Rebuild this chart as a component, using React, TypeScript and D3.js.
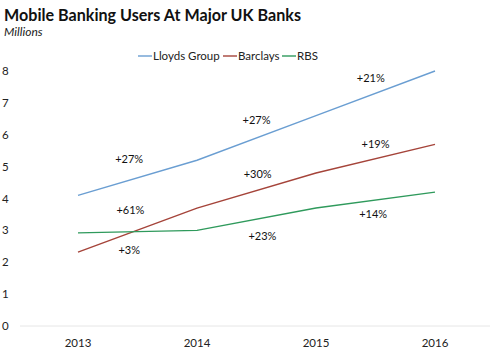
import { useEffect, useRef } from "react"
import * as d3 from "d3"

const years = [2013, 2014, 2015, 2016]
const lloyds = [4.1, 5.2, 6.6, 8.0]
const barclays = [2.32, 3.7, 4.8, 5.7]
const rbs = [2.92, 3.0, 3.7, 4.2]
const yTicks = [0, 1, 2, 3, 4, 5, 6, 7, 8]

// growth labels: i = position between year indexes, v = value height
const growthLabels = [
  { i: 0.43, v: 5.1, text: "+27%" },
  { i: 0.44, v: 3.5, text: "+61%" },
  { i: 0.43, v: 2.25, text: "+3%" },
  { i: 1.5, v: 6.35, text: "+27%" },
  { i: 1.51, v: 4.65, text: "+30%" },
  { i: 1.55, v: 2.7, text: "+23%" },
  { i: 2.46, v: 7.66, text: "+21%" },
  { i: 2.5, v: 5.6, text: "+19%" },
  { i: 2.48, v: 3.38, text: "+14%" },
]

const series = [
  { name: "Lloyds Group", values: lloyds, color: "#6a9ed2" },
  { name: "Barclays", values: barclays, color: "#a5443a" },
  { name: "RBS", values: rbs, color: "#2f9a5c" },
]

const App = () => {
  const svgRef = useRef(null)

  useEffect(() => {
    document.body.style.margin = "0"
    const width = 496
    const height = 354
    const font = "Lato, 'Open Sans', sans-serif"

    const x = d3.scaleLinear().domain([0, 3]).range([78, 435])
    const y = d3.scaleLinear().domain([0, 8]).range([326, 71])

    const svg = d3.select(svgRef.current).attr("width", width).attr("height", height)
    svg.selectAll("*").remove()

    svg.append("text").attr("x", 4).attr("y", 21).attr("font-family", font).attr("font-weight", "bold")
      .attr("font-size", "17.5px").attr("fill", "#111").attr("textLength", 297)
      .attr("lengthAdjust", "spacingAndGlyphs").text("Mobile Banking Users At Major UK Banks")
    svg.append("text").attr("x", 4).attr("y", 36).attr("font-family", font).attr("font-style", "italic")
      .attr("font-size", "12px").attr("fill", "#222").text("Millions")

    // baseline
    svg.append("line").attr("x1", 20).attr("x2", 490).attr("y1", y(0)).attr("y2", y(0))
      .attr("stroke", "#e6e6e6").attr("stroke-width", 1)

    // y tick labels
    svg.selectAll(".ytick").data(yTicks).enter().append("text")
      .attr("x", 2).attr("y", (d) => y(d) + 4).attr("font-family", font).attr("font-size", "11.5px")
      .attr("fill", "#222").text((d) => d)

    // x tick labels
    svg.selectAll(".xtick").data(years).enter().append("text")
      .attr("x", (d, i) => x(i)).attr("y", 347).attr("text-anchor", "middle").attr("font-family", font)
      .attr("font-size", "11.5px").attr("fill", "#222").text((d) => d)

    const line = d3.line<number>().x((d, i) => x(i)).y((d) => y(d))
    series.forEach((s) => {
      svg.append("path").attr("d", line(s.values)).attr("fill", "none")
        .attr("stroke", s.color).attr("stroke-width", 1.4)
    })

    // legend
    const legendX = [138, 223, 282]
    series.forEach((s, i) => {
      const g = svg.append("g").attr("transform", `translate(${legendX[i]},56)`)
      g.append("line").attr("x1", 0).attr("x2", 14).attr("y1", 0).attr("y2", 0)
        .attr("stroke", s.color).attr("stroke-width", 1.4)
      g.append("text").attr("x", 15).attr("y", 4).attr("font-family", font).attr("font-size", "11.5px")
        .attr("fill", "#222").text(s.name)
    })

    // growth annotations
    svg.selectAll(".growth").data(growthLabels).enter().append("text")
      .attr("x", (d) => x(d.i)).attr("y", (d) => y(d.v)).attr("text-anchor", "middle")
      .attr("font-family", font).attr("font-size", "11px").attr("fill", "#111").text((d) => d.text)
  }, [])

  return <svg ref={svgRef} style={{ display: "block" }}></svg>
}

export default App
